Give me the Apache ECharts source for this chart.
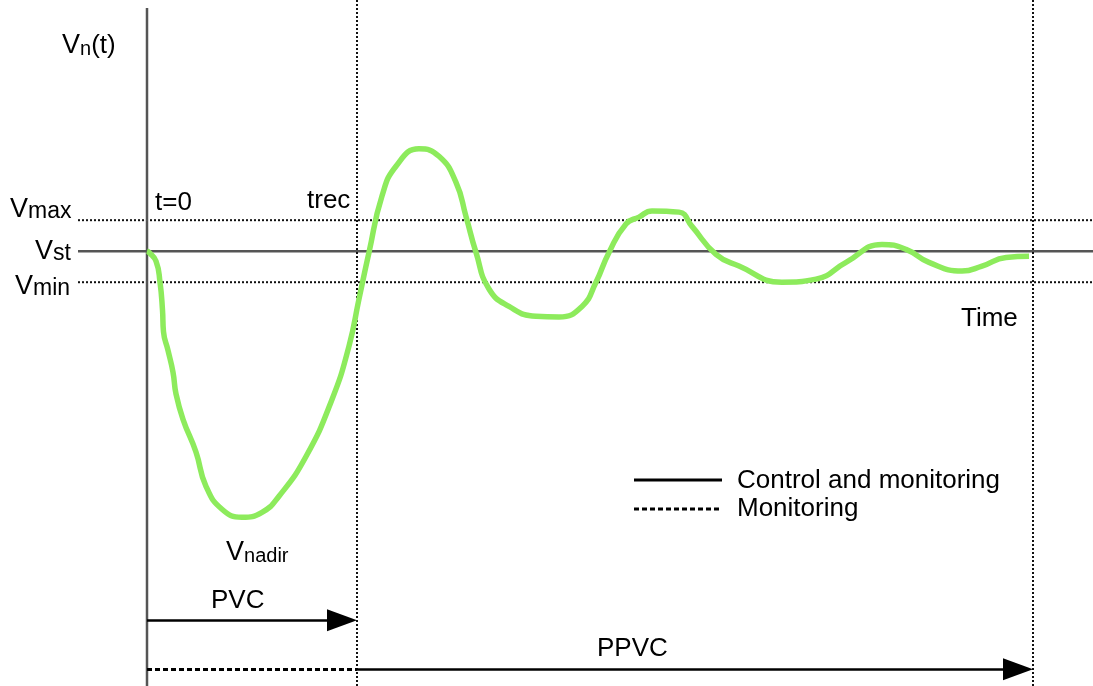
<!DOCTYPE html>
<html><head><meta charset="utf-8">
<script src="https://cdn.jsdelivr.net/npm/echarts@6/dist/echarts.min.js"></script>
<style>html,body{margin:0;padding:0;background:#fff}#c{width:1093px;height:686px}</style>
</head><body><div id="c"></div>
<script>
// Voltage response Vn(t) (pu) vs time (arbitrary units, t=0 at disturbance)
const curveTime = [0.00,0.02,0.09,0.13,0.155,0.165,0.21,0.26,0.29,0.36,0.49,0.59,0.75,0.95,1.15,1.32,1.59,1.85,2.02,2.12,2.22,2.35,2.49,2.72,2.92,3.09,3.19,3.29,3.42,3.62,3.89,4.12,4.35,4.49,4.62,4.79,4.92,5.05,5.32,5.45,5.69,5.92,6.35,6.69,6.99,7.35,7.59,7.82,8.15,8.35,8.59,8.82];
const curveVoltage = [1.000,0.998,0.984,0.950,0.905,0.870,0.840,0.805,0.770,0.729,0.676,0.621,0.584,0.571,0.579,0.605,0.669,0.761,0.847,0.923,0.998,1.089,1.137,1.165,1.153,1.111,1.056,0.998,0.939,0.911,0.895,0.894,0.911,0.950,0.998,1.044,1.055,1.065,1.063,1.040,0.995,0.976,0.950,0.955,0.982,1.011,1.003,0.982,0.968,0.976,0.990,0.992];
const levelNames = ['Vmax','Vst','Vmin'];
const levelValues = [1.05, 1.00, 0.95];
const eventNames = ['t=0','trec','end'];
const eventTimes = [0, 2.10, 8.86];
const hLineSpan = [-0.69, 9.46];
const vAxisSpan = [0.299, 1.392];
const periodNames = ['PVC','PPVC'];
const periodLevels = [0.405, 0.326];

const chart = echarts.init(document.getElementById('c'), null, {renderer:'canvas'});
const FONT = '"Liberation Sans", Arial, sans-serif';
const HEAD = 0.15; // half arrow-head length in time units (head is drawn centred on its point)
const series = [];
levelNames.forEach((n,i)=>{
  series.push({type:'line', name:n, silent:true, symbol:'none', z:2,
    data:[[hLineSpan[0], levelValues[i]],[hLineSpan[1], levelValues[i]]],
    lineStyle: n==='Vst' ? {color:'#555', width:2.5, type:'solid'} : {color:'#111', width:2, type:[2,2]}});
});
series.push({type:'line', silent:true, symbol:'none', z:2,
  data:[[eventTimes[0], vAxisSpan[1]],[eventTimes[0], vAxisSpan[0]]],
  lineStyle:{color:'#555', width:2.5}});
[1,2].forEach(i=>{
  series.push({type:'line', silent:true, symbol:'none', z:2,
    data:[[eventTimes[i], 1.405],[eventTimes[i], vAxisSpan[0]]],
    lineStyle:{color:'#111', width:2, type:[2,2]}});
});
series.push({type:'line', name:'Vn(t)', silent:true, symbol:'none', smooth:0.5, z:5,
  data: curveTime.map((t,i)=>[t, curveVoltage[i]]),
  lineStyle:{color:'#8deb5c', width:5.5}});
series.push({type:'line', silent:true, symbol:'none', z:3, data:[],
  markLine:{silent:true, animation:false, label:{show:false},
    data:[
      [{coord:[eventTimes[0], periodLevels[0]], symbol:'none', lineStyle:{color:'#000', width:2.5, type:'solid'}},
       {coord:[eventTimes[1]-HEAD, periodLevels[0]], symbol:'triangle', symbolSize:[22,30]}],
      [{coord:[eventTimes[0], periodLevels[1]], symbol:'none', lineStyle:{color:'#000', width:3, type:[5,3]}},
       {coord:[eventTimes[1], periodLevels[1]], symbol:'none'}],
      [{coord:[eventTimes[1], periodLevels[1]], symbol:'none', lineStyle:{color:'#000', width:2.5, type:'solid'}},
       {coord:[eventTimes[2]-HEAD, periodLevels[1]], symbol:'triangle', symbolSize:[22,30]}]
    ],
    itemStyle:{color:'#000'}
  }});

const R = {
  v:{fontSize:27, fontFamily:FONT, color:'#111', verticalAlign:'bottom'},
  s:{fontSize:23, fontFamily:FONT, color:'#111', verticalAlign:'bottom'},
  n:{fontSize:26, fontFamily:FONT, color:'#111', verticalAlign:'bottom'},
  sm:{fontSize:20, fontFamily:FONT, color:'#111', verticalAlign:'bottom'}
};
const g = [
  {type:'text', left:62, top:32, z:10, style:{rich:R, text:'{v|V}{sm|n}{n|(t)}'}},
  {type:'text', left:10, top:196, z:10, style:{rich:R, text:'{v|V}{s|max}'}},
  {type:'text', left:35, top:238, z:10, style:{rich:R, text:'{v|V}{s|st}'}},
  {type:'text', left:15, top:273, z:10, style:{rich:R, text:'{v|V}{s|min}'}},
  {type:'text', left:155, top:190, z:10, style:{rich:R, text:'{n|t=0}'}},
  {type:'text', left:307, top:188, z:10, style:{rich:R, text:'{n|trec}'}},
  {type:'text', left:961, top:306, z:10, style:{rich:R, text:'{n|Time}'}},
  {type:'text', left:226, top:539, z:10, style:{rich:R, text:'{v|V}{sm|nadir}'}},
  {type:'text', left:211, top:588, z:10, style:{rich:R, text:'{n|PVC}'}},
  {type:'text', left:597, top:636, z:10, style:{rich:R, text:'{n|PPVC}'}},
  {type:'text', left:737, top:468, z:10, style:{rich:R, text:'{n|Control and monitoring}'}},
  {type:'text', left:737, top:496, z:10, style:{rich:R, text:'{n|Monitoring}'}},
  {type:'line', z:10, shape:{x1:634,y1:480,x2:722,y2:480}, style:{stroke:'#000', lineWidth:3}},
  {type:'line', z:10, shape:{x1:634,y1:509,x2:722,y2:509}, style:{stroke:'#000', lineWidth:3, lineDash:[5,3]}}
];

chart.setOption({
  animation:false,
  backgroundColor:'#fff',
  grid:{left:0,right:0,top:0,bottom:0},
  xAxis:{type:'value', min:-1.47, max:9.46, show:false},
  yAxis:{type:'value', min:0.299, max:1.405, show:false},
  series: series,
  graphic: g
});
</script></body></html>
